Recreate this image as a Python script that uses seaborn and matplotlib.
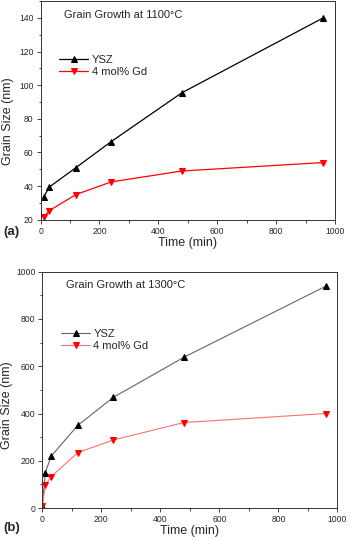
import matplotlib
matplotlib.use("Agg")
import matplotlib.pyplot as plt
import seaborn as sns
import pandas as pd
from matplotlib.ticker import MultipleLocator

sns.set_style("ticks")
plt.rcParams['font.family'] = ['Liberation Sans', 'DejaVu Sans']

# Panel (a): 1100°C
time_a = [10, 30, 120, 240, 480, 960]
ysz_a = [33.5, 39.5, 51, 66.5, 95.5, 140]
gd_a = [21.5, 25.5, 35, 42.5, 49, 54]

# Panel (b): 1300°C
time_b = [0, 10, 30, 120, 240, 480, 960]
ysz_b = [10, 150, 220, 350, 468, 638, 938]
gd_b = [10, 97, 133, 235, 288, 362, 400]

series_names = ["YSZ", "4 mol% Gd"]

fig = plt.figure(figsize=(3.5, 5.4), dpi=100)
ax1 = fig.add_axes([0.116, 0.593, 0.841, 0.405])
ax2 = fig.add_axes([0.121, 0.059, 0.843, 0.438])

def draw(ax, t, ysz, gd, lc_ysz, mc_ysz, lc_gd, mc_gd, lw):
    sns.lineplot(x=t, y=ysz, ax=ax, color=lc_ysz, marker="^", markersize=4.5,
                 markerfacecolor=mc_ysz, markeredgecolor=mc_ysz, linewidth=lw,
                 label=series_names[0])
    sns.lineplot(x=t, y=gd, ax=ax, color=lc_gd, marker="v", markersize=4.5,
                 markerfacecolor=mc_gd, markeredgecolor=mc_gd, linewidth=lw,
                 label=series_names[1])

draw(ax1, time_a, ysz_a, gd_a, "black", "black", "red", "red", 0.9)
draw(ax2, time_b, ysz_b, gd_b, "#666666", "black", "#ff7070", "red", 0.8)

ax1.set_xlim(0, 1000)
ax1.set_ylim(20, 150)
ax1.yaxis.set_major_locator(MultipleLocator(20))
ax1.yaxis.set_minor_locator(MultipleLocator(10))
ax2.set_xlim(0, 1000)
ax2.set_ylim(0, 1000)
ax2.yaxis.set_major_locator(MultipleLocator(200))
ax2.yaxis.set_minor_locator(MultipleLocator(100))

for ax in (ax1, ax2):
    ax.xaxis.set_major_locator(MultipleLocator(200))
    ax.xaxis.set_minor_locator(MultipleLocator(100))
    ax.tick_params(which="major", direction="out", length=3, width=0.6, labelsize=6.2, pad=2)
    ax.tick_params(which="minor", direction="out", length=1.8, width=0.6)
    for s in ax.spines.values():
        s.set_linewidth(0.7)
        s.set_color("#333333")
    ax.set_xlabel("Time (min)", fontsize=9, labelpad=1)
    ax.set_ylabel("Grain Size (nm)", fontsize=9)
    ax.legend(loc="upper left", bbox_to_anchor=(0.03, 0.8), frameon=False,
              fontsize=8, handlelength=2.6, handletextpad=0.3, labelspacing=0.2)

ax1.yaxis.set_label_coords(-0.090, 0.452)
ax2.yaxis.set_label_coords(-0.100, 0.436)

ax1.text(0.08, 0.96, "Grain Growth at 1100°C", transform=ax1.transAxes,
         fontsize=8, va="top", ha="left")
ax2.text(0.08, 0.965, "Grain Growth at 1300°C", transform=ax2.transAxes,
         fontsize=8, va="top", ha="left")

fig.text(3 / 350, 1 - 232 / 540, "(a)", fontsize=9.5, fontweight="bold", va="center")
fig.text(3 / 350, 1 - 528 / 540, "(b)", fontsize=9.5, fontweight="bold", va="center")

fig.savefig("out.png", dpi=100)
